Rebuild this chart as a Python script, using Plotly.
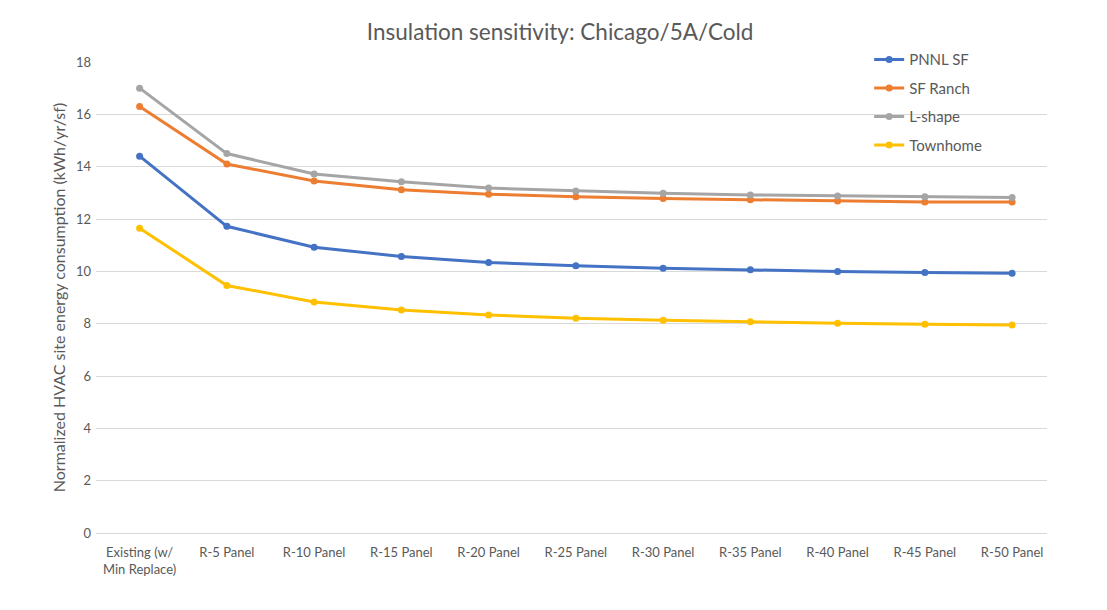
import plotly.graph_objects as go

categories = ["Existing (w/<br>Min Replace)", "R-5 Panel", "R-10 Panel", "R-15 Panel",
              "R-20 Panel", "R-25 Panel", "R-30 Panel", "R-35 Panel", "R-40 Panel",
              "R-45 Panel", "R-50 Panel"]

pnnl_sf = [14.4, 11.72, 10.92, 10.57, 10.34, 10.21, 10.12, 10.06, 9.99, 9.96, 9.93]
sf_ranch = [16.3, 14.1, 13.45, 13.12, 12.95, 12.85, 12.78, 12.74, 12.69, 12.65, 12.65]
l_shape = [17.0, 14.5, 13.72, 13.42, 13.18, 13.07, 12.98, 12.92, 12.88, 12.85, 12.82]
townhome = [11.65, 9.46, 8.83, 8.52, 8.33, 8.21, 8.13, 8.07, 8.02, 7.98, 7.95]

series = [
    ("PNNL SF", pnnl_sf, "#4472C4"),
    ("SF Ranch", sf_ranch, "#ED7D31"),
    ("L-shape", l_shape, "#A5A5A5"),
    ("Townhome", townhome, "#FFC000"),
]

text_color = "#595959"
font_family = "Lato, 'Open Sans', sans-serif"

fig = go.Figure()
for name, values, color in series:
    fig.add_trace(go.Scatter(
        x=categories, y=values, name=name, mode="lines+markers",
        legendgroup=name,
        line=dict(color=color, width=3),
        marker=dict(color=color, size=7),
    ))

fig.update_layout(
    width=1107, height=610,
    paper_bgcolor="white", plot_bgcolor="white",
    margin=dict(l=96, r=60, t=62, b=77),
    font=dict(family=font_family, color=text_color, size=13),
    title=dict(text="Insulation sensitivity: Chicago/5A/Cold",
               x=0.506, xanchor="center", y=0.948, yanchor="middle",
               font=dict(size=22.5, color=text_color, family=font_family)),
    legend=dict(x=0.813, y=1.04, xanchor="left", yanchor="top",
                bgcolor="rgba(0,0,0,0)", font=dict(size=15, color=text_color),
                tracegroupgap=6, itemwidth=30),
    xaxis=dict(showgrid=False, showline=False, ticks="", automargin=False,
               range=[-0.5, len(categories) - 0.6], ticklabelstandoff=10,
               tickfont=dict(size=13, color=text_color)),
    yaxis=dict(range=[0, 18], dtick=2, showgrid=True, gridcolor="#D9D9D9",
               gridwidth=1, zeroline=True, zerolinecolor="#D9D9D9", zerolinewidth=1,
               ticks="", automargin=False, ticklabelstandoff=4,
               tickfont=dict(size=13, color=text_color),
               title=dict(text="Normalized HVAC site energy consumption (kWh/yr/sf)",
                          font=dict(size=16, color=text_color), standoff=6)),
)

fig.write_html("out.html")
